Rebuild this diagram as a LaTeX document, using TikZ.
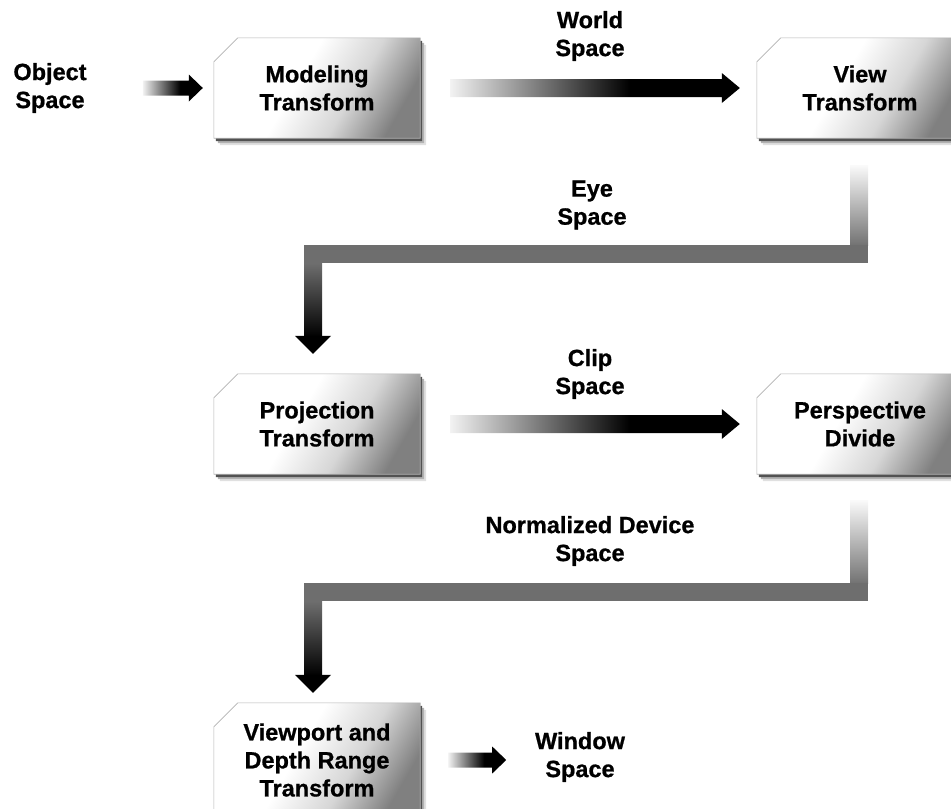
\documentclass[tikz,border=0pt]{standalone}
\usepackage{fontspec}
\setmainfont{Liberation Sans}[BoldFeatures={FakeBold=0.8}]
\usetikzlibrary{calc}
\pgfdeclarelayer{bg}
\pgfsetlayers{bg,main}
\pgfdeclarehorizontalshading{boxsh}{100bp}{color(0bp)=(white); color(44bp)=(white); color(60bp)=(black!16); color(75bp)=(black!50); color(100bp)=(black!50)}
\pgfdeclarehorizontalshading{arrsh}{100bp}{color(0bp)=(black!5); color(25bp)=(black!5); color(56bp)=(black); color(100bp)=(black)}
\newcommand\boxshape[3]{($(#1.north west)+(#2,#3+24)$) -- ($(#1.north west)+(#2+24,#3)$) -- ($(#1.north east)+(#2,#3)$) -- ($(#1.south east)+(#2,#3)$) -- ($(#1.south west)+(#2,#3)$) -- cycle}
\newcommand\pipebox[1]{%
 \begin{pgfonlayer}{bg}
 \fill[black!12] \boxshape{#1}{6}{7};
 \fill[black!30] \boxshape{#1}{4}{5};
 \fill[black!68] \boxshape{#1}{2}{3};
 \shade[shading=boxsh, shading angle=-30] \boxshape{#1}{0}{0};
 \draw[black!30, line width=0.6pt] \boxshape{#1}{0}{0};
 \end{pgfonlayer}}
\newcommand\harrow[5]{%
 \shade[shading=arrsh] let \p1=(#1), \p2=(#2) in
  (\x1,\y1+#3pt) -- (\x2-#5pt,\y1+#3pt) -- (\x2-#5pt,\y1+#4pt) -- (\x2,\y1) -- (\x2-#5pt,\y1-#4pt) -- (\x2-#5pt,\y1-#3pt) -- (\x1,\y1-#3pt) -- cycle;}
\newcommand\elbow[3]{%
 \shade[top color=black!2, bottom color=black!55] let \p1=(#1),\p3=(#3) in (\x1-9pt,\y1) rectangle (\x1+9pt,\y3+9pt);
 \fill[black!57] let \p1=(#1),\p2=(#2),\p3=(#3) in (\x2-9pt,\y3+9pt) rectangle (\x1+9pt,\y3-9pt);
 \shade[top color=black!57, bottom color=black] let \p2=(#2),\p3=(#3) in (\x2-9pt,\y3-9.5pt) rectangle (\x2+9pt,\y2+17pt);
 \fill[black] let \p2=(#2) in (\x2-18pt,\y2+18pt) -- (\x2+18pt,\y2+18pt) -- (\x2,\y2) -- cycle;}
\begin{document}
\begin{tikzpicture}[x=1pt,y=-1pt,
  lbl/.style={font=\bfseries\fontsize{23.5}{28}\selectfont, align=center, inner sep=0pt},
  box/.style={lbl, minimum width=206pt, minimum height=100pt}]
\useasboundingbox (0,0) rectangle (951,809);
\node[box] (mod) at (317,88) {Modeling\\Transform};
\node[box] (view) at (860,88) {View\\Transform};
\node[box] (proj) at (317,424) {Projection\\Transform};
\node[box] (persp) at (860,424) {Perspective\\Divide};
\node[box, minimum height=114pt] (vp) at (317,760) {Viewport and\\Depth Range\\Transform};
\pipebox{mod}\pipebox{view}\pipebox{proj}\pipebox{persp}\pipebox{vp}
\node[lbl] (obj) at (50,88) {Object\\Space};
\node[lbl] (world) at (590,36) {World\\Space};
\node[lbl] (eye) at (592,205) {Eye\\Space};
\node[lbl] (clip) at (590,374) {Clip\\Space};
\node[lbl] (ndc) at (590,541) {Normalized Device\\Space};
\node[lbl] (win) at (580,757) {Window\\Space};
\harrow{$(mod.west)+(-71,0)$}{$(mod.west)+(-11,0)$}{7.5}{13.5}{14}
\harrow{$(mod.east)+(30,0)$}{$(view.west)+(-17,0)$}{9}{15}{18}
\harrow{$(proj.east)+(30,0)$}{$(persp.west)+(-17,0)$}{9}{15}{18}
\harrow{$(vp.east)+(28,0)$}{$(vp.east)+(86,0)$}{7.5}{13.5}{14}
\elbow{$(view.south)+(-1,27)$}{$(proj.north)+(-4,-20)$}{586,254}
\elbow{$(persp.south)+(-1,26)$}{$(vp.north)+(-4,-10)$}{586,592}
\end{tikzpicture}
\end{document}
